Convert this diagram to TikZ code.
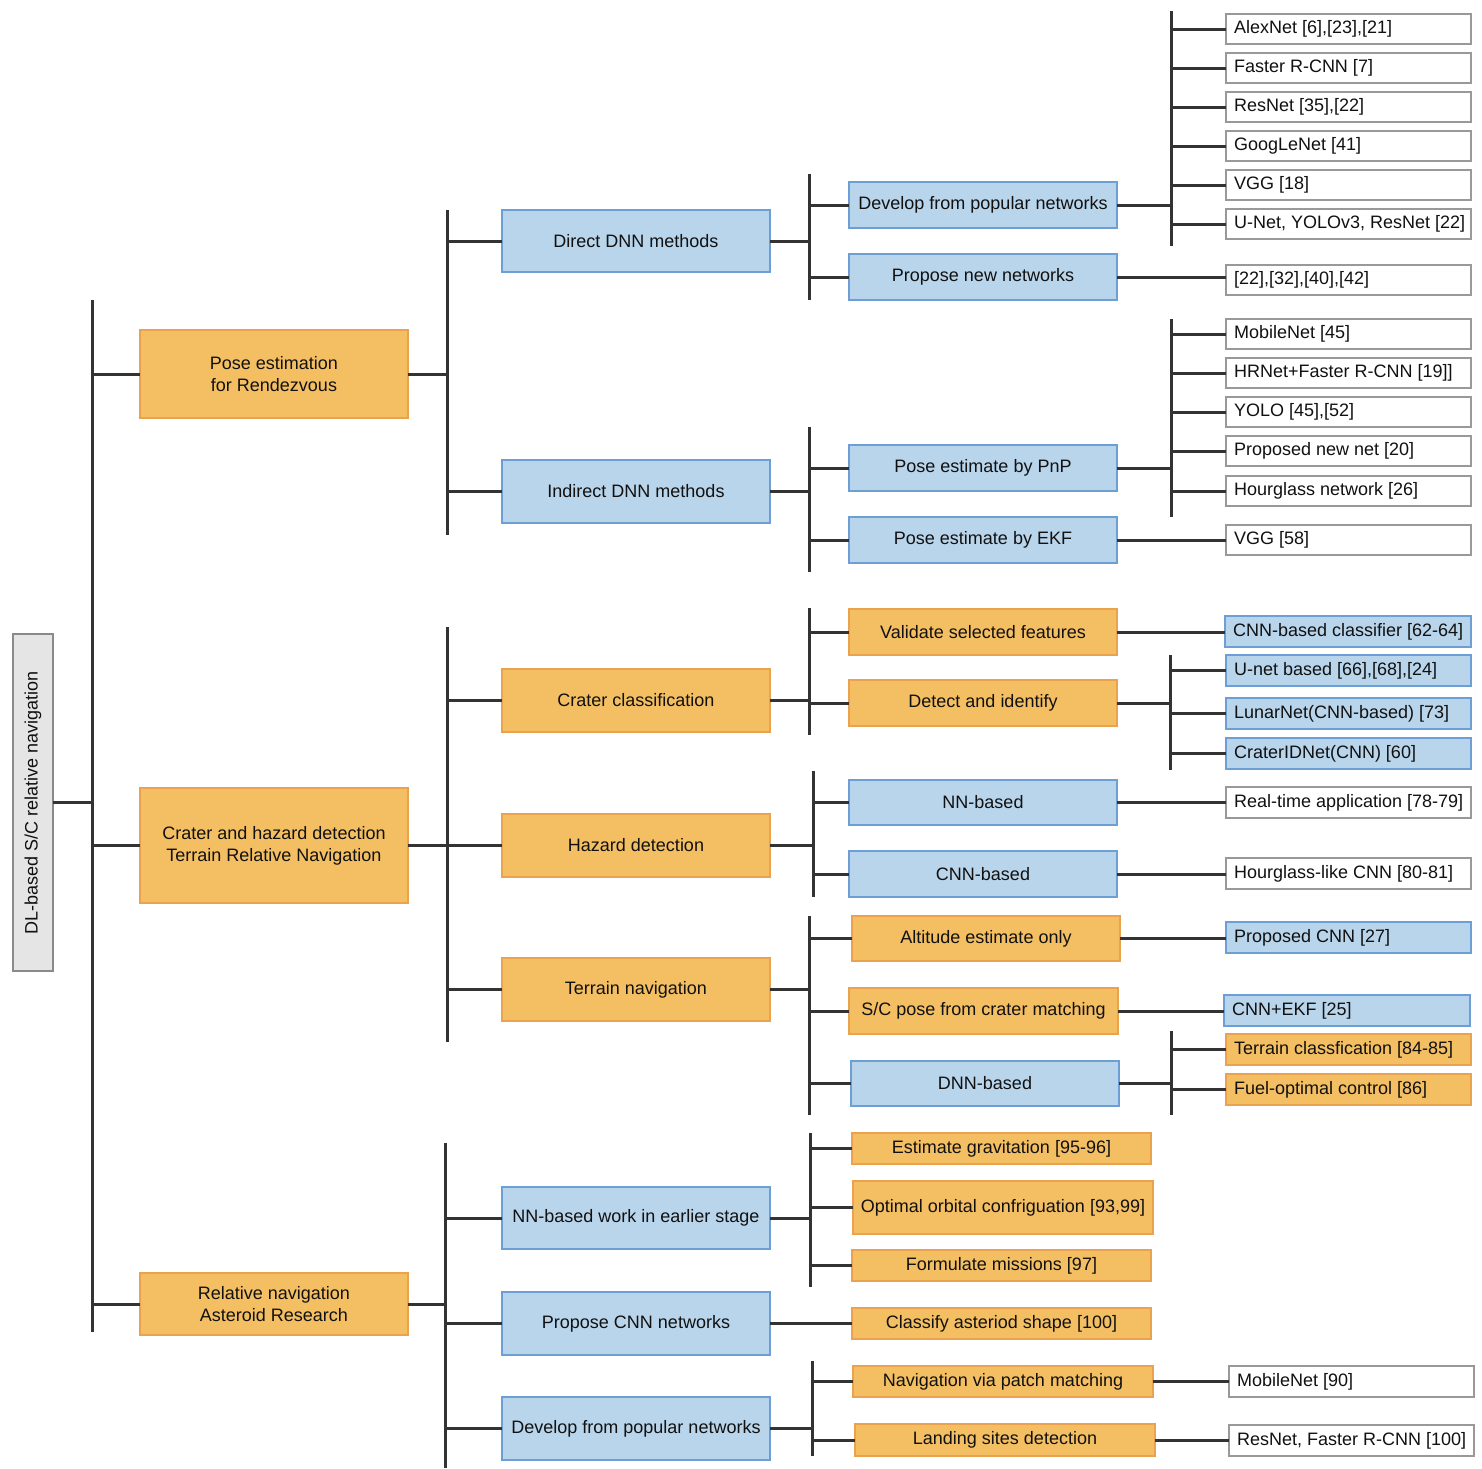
\documentclass[tikz,border=0pt]{standalone}
\usepackage{fontspec}
\setmainfont{Liberation Sans}
\definecolor{orfill}{HTML}{F4BF63}
\definecolor{ordraw}{HTML}{EAA24E}
\definecolor{blfill}{HTML}{B9D5EB}
\definecolor{bldraw}{HTML}{6D9ED5}
\definecolor{wdraw}{HTML}{999999}
\definecolor{grfill}{HTML}{E5E5E5}
\definecolor{grdraw}{HTML}{8A8A8A}
\definecolor{lncol}{HTML}{333333}
\definecolor{txcol}{HTML}{111111}
\tikzset{
  boxbase/.style={draw, line width=1.3pt, inner sep=0pt, outer sep=0pt, text=txcol,
    font=\fontsize{18}{22}\selectfont, align=center},
  obox/.style={boxbase, fill=orfill, draw=ordraw},
  bbox/.style={boxbase, fill=blfill, draw=bldraw},
  wbox/.style={boxbase, fill=white, draw=wdraw},
  gbox/.style={boxbase, fill=grfill, draw=grdraw},
  ln/.style={draw=lncol, line width=3pt},
}
\newcommand\mybox[7]{\node[#2, minimum width={(#5)-(#3)}, minimum height={(#6)-(#4)}] (#1) at ({((#3)+(#5))/2},{((#4)+(#6))/2}) {#7};}
\newcommand\mylbox[7]{\node[#2, minimum width={(#5)-(#3)}, minimum height={(#6)-(#4)}, inner xsep=8pt] (#1) at ({((#3)+(#5))/2},{((#4)+(#6))/2}) {\makebox[\dimexpr #5pt-#3pt-16pt\relax][l]{#7}};}
\begin{document}
\begin{tikzpicture}[x=1pt,y=-1pt]
\useasboundingbox (0,0) rectangle (1482,1468);
% bars
\coordinate (tT) at (92,300);   \coordinate (tB) at (92,1332);
\coordinate (p1T) at (447,210); \coordinate (p1B) at (447,535);
\coordinate (p2T) at (447,627); \coordinate (p2B) at (447,1042);
\coordinate (p3T) at (445,1143); \coordinate (p3B) at (445,1468);
\coordinate (q1T) at (809,174); \coordinate (q1B) at (809,300);
\coordinate (q2T) at (809,427); \coordinate (q2B) at (809,572);
\coordinate (q3T) at (809,608); \coordinate (q3B) at (809,735);
\coordinate (q4T) at (813,771); \coordinate (q4B) at (813,897);
\coordinate (q5T) at (809,916); \coordinate (q5B) at (809,1115);
\coordinate (q6T) at (810,1133); \coordinate (q6B) at (810,1287);
\coordinate (q7T) at (812,1361); \coordinate (q7B) at (812,1456);
\coordinate (r1T) at (1171,11); \coordinate (r1B) at (1171,246);
\coordinate (r2T) at (1171,319); \coordinate (r2B) at (1171,517);
\coordinate (r3T) at (1170,655); \coordinate (r3B) at (1170,770);
\coordinate (r4T) at (1171,1031); \coordinate (r4B) at (1171,1115);
\foreach \b in {t,p1,p2,p3,q1,q2,q3,q4,q5,q6,q7,r1,r2,r3,r4}
  \draw[ln] (\b T) -- (\b B);
% root
\node[gbox, rotate=90, minimum width=337, minimum height=40] (root) at (33,802.5) {DL-based S/C relative navigation};
% level 1
\mybox{pose}{obox}{140}{330}{408}{418}{Pose estimation\\for Rendezvous}
\mybox{crater}{obox}{140}{788}{408}{903}{Crater and hazard detection\\Terrain Relative Navigation}
\mybox{rel}{obox}{140}{1273}{408}{1335}{Relative navigation\\Asteroid Research}
% level 2
\mybox{direct}{bbox}{502}{210}{770}{272}{Direct DNN methods}
\mybox{indirect}{bbox}{502}{460}{770}{523}{Indirect DNN methods}
\mybox{cclass}{obox}{502}{669}{770}{732}{Crater classification}
\mybox{hazard}{obox}{502}{814}{770}{877}{Hazard detection}
\mybox{terrain}{obox}{502}{958}{770}{1021}{Terrain navigation}
\mybox{nnearly}{bbox}{502}{1187}{770}{1249}{NN-based work in earlier stage}
\mybox{propcnn}{bbox}{502}{1292}{770}{1355}{Propose CNN networks}
\mybox{devpop}{bbox}{502}{1397}{770}{1460}{Develop from popular networks}
% level 3
\mybox{dev}{bbox}{849}{182}{1117}{228}{Develop from popular networks}
\mybox{propnew}{bbox}{849}{254}{1117}{300}{Propose new networks}
\mybox{pnp}{bbox}{849}{445}{1117}{491}{Pose estimate by PnP}
\mybox{ekf}{bbox}{849}{517}{1117}{563}{Pose estimate by EKF}
\mybox{valid}{obox}{849}{609}{1117}{655}{Validate selected features}
\mybox{detect}{obox}{849}{680}{1117}{726}{Detect and identify}
\mybox{nnb}{bbox}{849}{780}{1117}{825}{NN-based}
\mybox{cnnb}{bbox}{849}{851}{1117}{897}{CNN-based}
\mybox{alt}{obox}{852}{916}{1120}{961}{Altitude estimate only}
\mybox{scpose}{obox}{849}{988}{1118}{1034}{S/C pose from crater matching}
\mybox{dnnb}{bbox}{851}{1061}{1119}{1106}{DNN-based}
\mybox{grav}{obox}{852}{1133}{1151}{1164}{Estimate gravitation [95-96]}
\mybox{orb}{obox}{853}{1181}{1153}{1234}{Optimal orbital confriguation [93,99]}
\mybox{form}{obox}{852}{1250}{1151}{1281}{Formulate missions [97]}
\mybox{shape}{obox}{852}{1308}{1151}{1339}{Classify asteriod shape [100]}
\mybox{patch}{obox}{853}{1366}{1153}{1397}{Navigation via patch matching}
\mybox{land}{obox}{855}{1424}{1155}{1456}{Landing sites detection}
% level 4
\mylbox{alex}{wbox}{1226}{14}{1471}{44}{AlexNet [6],[23],[21]}
\mylbox{faster}{wbox}{1226}{53}{1471}{83}{Faster R-CNN [7]}
\mylbox{resnet}{wbox}{1226}{92}{1471}{122}{ResNet [35],[22]}
\mylbox{goog}{wbox}{1226}{131}{1471}{161}{GoogLeNet [41]}
\mylbox{vgg}{wbox}{1226}{170}{1471}{200}{VGG [18]}
\mylbox{unet}{wbox}{1226}{209}{1471}{239}{U-Net, YOLOv3, ResNet [22]}
\mylbox{refs}{wbox}{1226}{265}{1471}{295}{[22],[32],[40],[42]}
\mylbox{mobile}{wbox}{1226}{319}{1471}{349}{MobileNet [45]}
\mylbox{hrnet}{wbox}{1226}{358}{1471}{388}{HRNet+Faster R-CNN [19]]}
\mylbox{yolo}{wbox}{1226}{397}{1471}{427}{YOLO [45],[52]}
\mylbox{propnet}{wbox}{1226}{436}{1471}{466}{Proposed new net [20]}
\mylbox{hour}{wbox}{1226}{476}{1471}{506}{Hourglass network [26]}
\mylbox{vggb}{wbox}{1226}{525}{1471}{555}{VGG [58]}
\mylbox{cnncls}{bbox}{1225}{616}{1471}{647}{CNN-based classifier [62-64]}
\mylbox{unetb}{bbox}{1226}{655}{1471}{686}{U-net based [66],[68],[24]}
\mylbox{lunar}{bbox}{1226}{698}{1471}{729}{LunarNet(CNN-based) [73]}
\mylbox{craterid}{bbox}{1226}{738}{1471}{769}{CraterIDNet(CNN) [60]}
\mylbox{realtime}{wbox}{1226}{787}{1471}{818}{Real-time application [78-79]}
\mylbox{hourlike}{wbox}{1226}{858}{1471}{889}{Hourglass-like CNN [80-81]}
\mylbox{pcnn}{bbox}{1226}{922}{1471}{953}{Proposed CNN [27]}
\mylbox{cnnekf}{bbox}{1224}{995}{1470}{1026}{CNN+EKF [25]}
\mylbox{terrcls}{obox}{1226}{1034}{1471}{1065}{Terrain classfication [84-85]}
\mylbox{fuel}{obox}{1226}{1074}{1471}{1105}{Fuel-optimal control [86]}
\mylbox{mobileb}{wbox}{1229}{1366}{1474}{1397}{MobileNet [90]}
\mylbox{resfr}{wbox}{1229}{1425}{1474}{1456}{ResNet, Faster R-CNN [100]}
% connectors: parent -> bar
\draw[ln] (root.south) -- (root.south -| tT);
\foreach \p/\b in {pose/p1, crater/p2, rel/p3, direct/q1, indirect/q2, cclass/q3, hazard/q4,
  terrain/q5, nnearly/q6, devpop/q7, dev/r1, pnp/r2, detect/r3, dnnb/r4}
  \draw[ln] (\p.east) -- (\p.east -| \b T);
% connectors: bar -> child
\foreach \c/\b in {pose/t, crater/t, rel/t,
  direct/p1, indirect/p1, cclass/p2, hazard/p2, terrain/p2, nnearly/p3, propcnn/p3, devpop/p3,
  dev/q1, propnew/q1, pnp/q2, ekf/q2, valid/q3, detect/q3, nnb/q4, cnnb/q4,
  alt/q5, scpose/q5, dnnb/q5, grav/q6, orb/q6, form/q6, patch/q7, land/q7,
  alex/r1, faster/r1, resnet/r1, goog/r1, vgg/r1, unet/r1,
  mobile/r2, hrnet/r2, yolo/r2, propnet/r2, hour/r2,
  unetb/r3, lunar/r3, craterid/r3, terrcls/r4, fuel/r4}
  \draw[ln] (\b T |- \c.west) -- (\c.west);
% direct connectors
\foreach \a/\c in {propnew/refs, ekf/vggb, valid/cnncls, nnb/realtime, cnnb/hourlike,
  alt/pcnn, scpose/cnnekf, propcnn/shape, patch/mobileb, land/resfr}
  \draw[ln] (\a.east) -- (\a.east -| \c.west);
\end{tikzpicture}
\end{document}
